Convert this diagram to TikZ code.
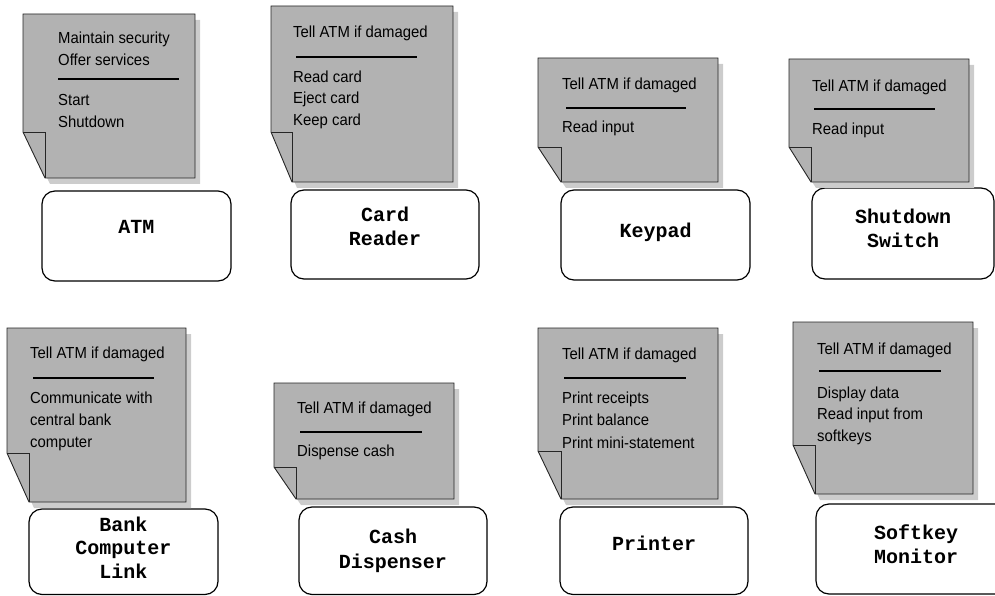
\documentclass[tikz,border=0pt]{standalone}
\usepackage{fontspec}
\newfontfamily\notefont[FakeStretch=0.93]{Liberation Sans}
\newfontfamily\classfont{Liberation Mono}
\definecolor{notegray}{gray}{0.70}
\definecolor{shadegray}{gray}{0.80}

\tikzset{
  notebody/.style={fill=notegray, draw=black!85, line width=0.9pt},
  noteshadow/.style={fill=shadegray},
  notefold/.style={draw=black!85, line width=0.9pt},
  noteline/.style={anchor=base west, inner sep=0pt,
    font=\notefont\fontsize{16}{22}\selectfont},
  noterule/.style={line width=2pt},
  classbox/.style={draw, line width=1.2pt, rounded corners=13pt,
    fill=white, inner sep=0pt},
  classname/.style={anchor=base, inner sep=0pt,
    font=\classfont\bfseries\fontsize{20}{24}\selectfont},
}

% A note sheet with a folded lower-left corner and a drop shadow.
% #1 left, #2 top, #3 right, #4 bottom, #5 fold x, #6 fold y
\newcommand\cardnote[6]{%
  \fill[noteshadow] (#1+5,#2+6) -- (#3+5,#2+6) -- (#3+5,#4+6)
    -- (#5+5,#4+6) -- (#1+5,#6+6) -- cycle;
  \filldraw[notebody] (#1,#2) -- (#3,#2) -- (#3,#4) -- (#5,#4)
    -- (#1,#6) -- cycle;
  \draw[notefold] (#1,#6) -- (#5,#6) -- (#5,#4);
}

\begin{document}
\begin{tikzpicture}[x=1pt, y=-1pt]
\useasboundingbox (0,0) rectangle (995,596);
\clip (0,0) rectangle (995,596);

% ---------- class boxes ----------
\node[classbox, minimum width=189pt, minimum height=90pt] (atm) at (136.5,236) {};
\node[classname] (atm-n1) at (136.5,233.5) {ATM};

\node[classbox, minimum width=188pt, minimum height=89pt] (reader) at (385,234.5) {};
\node[classname] (reader-n1) at (385,222) {Card};
\node[classname] (reader-n2) at (385,245.5) {Reader};

\node[classbox, minimum width=189pt, minimum height=90pt] (keypad) at (655.5,235) {};
\node[classname] (keypad-n1) at (655.5,237.5) {Keypad};

\node[classbox, minimum width=182pt, minimum height=91pt] (switch) at (903,233.5) {};
\node[classname] (switch-n1) at (903,223) {Shutdown};
\node[classname] (switch-n2) at (903,247) {Switch};

\node[classbox, minimum width=189pt, minimum height=85.5pt] (link) at (123.5,551.75) {};
\node[classname] (link-n1) at (123.5,531) {Bank};
\node[classname] (link-n2) at (123.5,554.5) {Computer};
\node[classname] (link-n3) at (123.5,578) {Link};

\node[classbox, minimum width=188pt, minimum height=87.5pt] (dispenser) at (393,550.75) {};
\node[classname] (dispenser-n1) at (393,543.5) {Cash};
\node[classname] (dispenser-n2) at (393,568) {Dispenser};

\node[classbox, minimum width=188pt, minimum height=87.5pt] (printer) at (654,550.75) {};
\node[classname] (printer-n1) at (654,550.5) {Printer};

\node[classbox, minimum width=200pt, minimum height=90pt] (monitor) at (916,549) {};
\node[classname] (monitor-n1) at (916,539) {Softkey};
\node[classname] (monitor-n2) at (916,563) {Monitor};

% ---------- responsibility notes ----------
% ATM
\cardnote{23}{14}{195}{178}{45}{132}
\node[noteline] (atm-r1) at (58,43.5) {Maintain security};
\node[noteline] (atm-r2) at (58,65.5) {Offer services};
\draw[noterule] (58,79) -- (179,79);
\node[noteline] (atm-o1) at (58,106) {Start};
\node[noteline] (atm-o2) at (58,128) {Shutdown};

% Card Reader
\cardnote{271}{6}{453}{182}{292}{132}
\node[noteline] (reader-r1) at (293,38) {Tell ATM if damaged};
\draw[noterule] (296,57) -- (417,57);
\node[noteline] (reader-o1) at (293,82.5) {Read card};
\node[noteline] (reader-o2) at (293,104) {Eject card};
\node[noteline] (reader-o3) at (293,125.5) {Keep card};

% Keypad
\cardnote{538}{58}{718}{182}{561}{147}
\node[noteline] (keypad-r1) at (562,90) {Tell ATM if damaged};
\draw[noterule] (566,108) -- (686,108);
\node[noteline] (keypad-o1) at (562,133) {Read input};

% Shutdown Switch
\cardnote{789}{59}{969}{182}{811}{147}
\node[noteline] (switch-r1) at (812,92) {Tell ATM if damaged};
\draw[noterule] (814,109) -- (935,109);
\node[noteline] (switch-o1) at (812,135) {Read input};

% Bank Computer Link
\cardnote{7}{328}{186}{502}{29}{453}
\node[noteline] (link-r1) at (30,358.5) {Tell ATM if damaged};
\draw[noterule] (33,378) -- (154,378);
\node[noteline] (link-o1) at (30,403) {Communicate with};
\node[noteline] (link-o2) at (30,425) {central bank};
\node[noteline] (link-o3) at (30,447) {computer};

% Cash Dispenser
\cardnote{274}{383}{454}{499}{296}{467}
\node[noteline] (dispenser-r1) at (297,413) {Tell ATM if damaged};
\draw[noterule] (300,432) -- (422,432);
\node[noteline] (dispenser-o1) at (297,456) {Dispense cash};

% Printer
\cardnote{538}{328}{718}{499}{561}{451}
\node[noteline] (printer-r1) at (562,359) {Tell ATM if damaged};
\draw[noterule] (564,378) -- (686,378);
\node[noteline] (printer-o1) at (562,403) {Print receipts};
\node[noteline] (printer-o2) at (562,425) {Print balance};
\node[noteline] (printer-o3) at (562,448) {Print mini-statement};

% Softkey Monitor
\cardnote{793}{322}{973}{494}{815}{445}
\node[noteline] (monitor-r1) at (817,354) {Tell ATM if damaged};
\draw[noterule] (819,371) -- (941,371);
\node[noteline] (monitor-o1) at (817,398) {Display data};
\node[noteline] (monitor-o2) at (817,419) {Read input from};
\node[noteline] (monitor-o3) at (817,441) {softkeys};

\end{tikzpicture}
\end{document}
